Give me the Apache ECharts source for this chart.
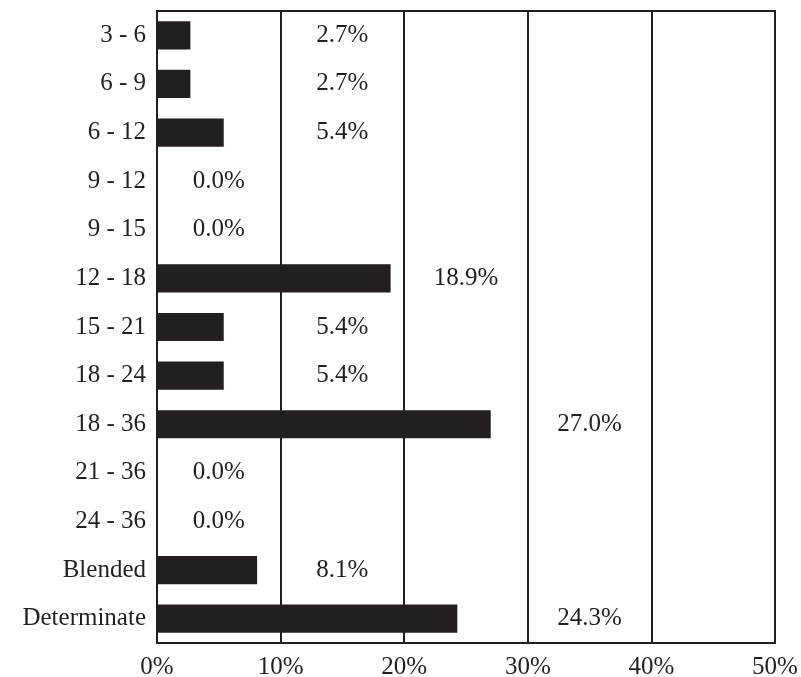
<!DOCTYPE html>
<html><head><meta charset="utf-8">
<script src="https://cdn.jsdelivr.net/npm/echarts@6/dist/echarts.min.js"></script>
<style>html,body{margin:0;padding:0;background:#fff}#c{width:801px;height:677px}</style>
</head><body><div id="c"></div>
<script>
const categories = ['3 - 6','6 - 9','6 - 12','9 - 12','9 - 15','12 - 18','15 - 21','18 - 24','18 - 36','21 - 36','24 - 36','Blended','Determinate'];
const values = [2.7, 2.7, 5.4, 0.0, 0.0, 18.9, 5.4, 5.4, 27.0, 0.0, 0.0, 8.1, 24.3];
const xTicks = [0, 10, 20, 30, 40, 50];

const FONT = '"Liberation Serif", "DejaVu Serif", serif';
const INK = '#231f20';
// labels sit centered in the gridline cell following the bar end
const labelPos = values.map((v, i) => [Math.ceil(v / 10) * 10 + 5, categories[i], v]);

const chart = echarts.init(document.getElementById('c'));
chart.setOption({
  animation: false,
  grid: {left: 157, right: 26, top: 11, bottom: 34, show: true, borderColor: INK, borderWidth: 2,
         containLabel: false, outerBoundsMode: 'none'},
  xAxis: {
    type: 'value', min: xTicks[0], max: xTicks[xTicks.length - 1], interval: 10,
    axisLine: {show: true, lineStyle: {color: INK, width: 2}},
    axisTick: {show: false},
    splitLine: {show: true, lineStyle: {color: INK, width: 2}},
    axisLabel: {formatter: v => v + '%', color: INK, fontFamily: FONT, fontSize: 25, margin: 12}
  },
  yAxis: {
    type: 'category', data: categories, inverse: true,
    axisLine: {show: true, lineStyle: {color: INK, width: 2}},
    axisTick: {show: false},
    axisLabel: {color: INK, fontFamily: FONT, fontSize: 25, margin: 11}
  },
  series: [
    {type: 'bar', data: values, itemStyle: {color: INK}, barCategoryGap: '42%'},
    {type: 'scatter', data: labelPos, symbolSize: 1, silent: true, itemStyle: {opacity: 0},
     label: {show: true, position: 'inside', opacity: 1, formatter: p => p.value[2].toFixed(1) + '%', color: INK, fontFamily: FONT, fontSize: 25}}
  ]
});
</script></body></html>
